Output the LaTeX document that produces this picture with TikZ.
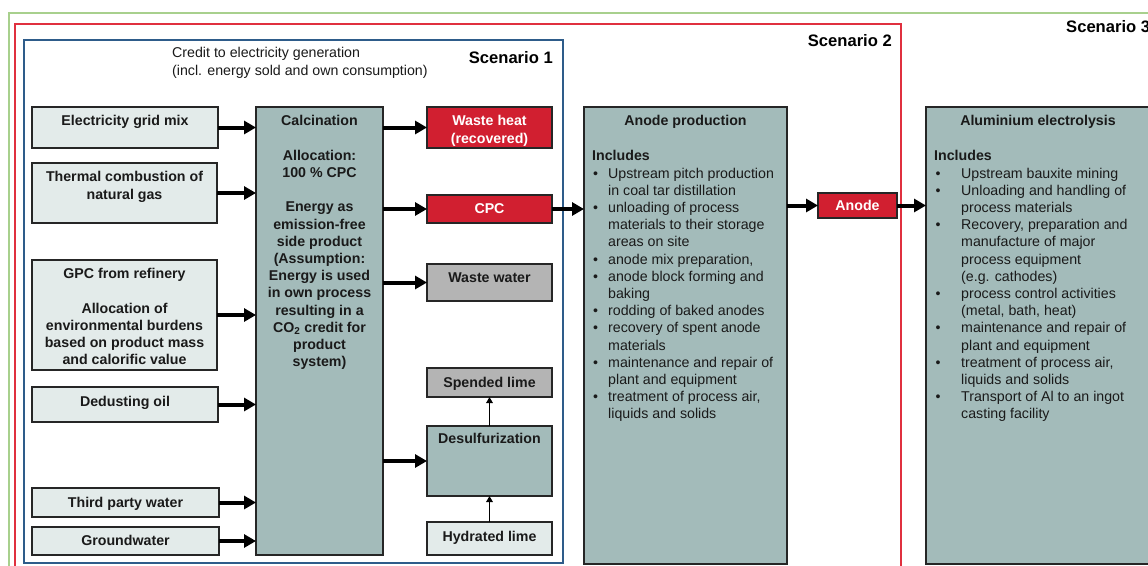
\documentclass[tikz,border=0pt]{standalone}
\usepackage{fontspec}
\setmainfont{Liberation Sans}
\usetikzlibrary{arrows.meta}
\definecolor{lightfill}{HTML}{E3EBEA}
\definecolor{mainfill}{HTML}{A3BBBA}
\definecolor{redfill}{HTML}{D11F30}
\definecolor{grayfill}{HTML}{B4B4B4}
\definecolor{greenline}{HTML}{A8D08D}
\definecolor{redline}{HTML}{E0303F}
\definecolor{blueline}{HTML}{2E5C8A}
\definecolor{boxline}{HTML}{262626}
\definecolor{txt}{HTML}{1A1A1A}
\newcommand{\mybul}{\makebox[16pt][l]{\hspace{1pt}•}}
\newcommand{\myind}{\makebox[16pt]{}}
\newcommand{\mybulB}{\makebox[27pt][l]{\hspace{1.5pt}•}}
\newcommand{\myindB}{\makebox[27pt]{}}
\begin{document}
\begin{tikzpicture}[x=1pt,y=-1pt,
  basebox/.style={draw=boxline, line width=1.3pt, inner sep=0pt, outer sep=0pt, anchor=north west},
  lbox/.style={basebox, fill=lightfill},
  mbox/.style={basebox, fill=mainfill},
  rbox/.style={basebox, fill=redfill},
  gbox/.style={basebox, fill=grayfill},
  btxt/.style={font=\fontsize{14.2}{17.2}\selectfont\bfseries, align=center, inner sep=0pt, anchor=north, yshift=12.04pt, execute at begin node=\strut, text=txt},
  wtxt/.style={btxt, text=white},
  ltxt/.style={font=\fontsize{14.2}{17.2}\selectfont, align=left, inner sep=0pt, anchor=north west, yshift=12.04pt, execute at begin node=\strut, text=txt},
  ml/.style={yshift=-2.5pt},
  flow/.style={line width=4pt, -{Triangle[length=12pt,width=13pt]}, black},
  thinflow/.style={line width=1.5pt, -{Triangle[length=6pt,width=6.5pt]}, black},
  scen/.style={font=\fontsize{16.6}{20}\selectfont\bfseries, inner sep=0pt, text=black}
]
\useasboundingbox (0,0) rectangle (1148,565);
\clip (0,0) rectangle (1148,565);
\fill[white] (0,0) rectangle (1148,565);

% scenario borders
\draw[greenline, line width=2.2pt] (9,13) rectangle (1170,600);
\draw[redline, line width=2.2pt] (15,24) rectangle (901,600);
\draw[blueline, line width=2.2pt] (24,40) rectangle (563,563);

\node[scen, anchor=base east] (s1) at (553,63) {Scenario 1};
\node[scen, anchor=base east] (s2) at (892,46) {Scenario 2};
\node[scen, anchor=base west] (s3) at (1066,32) {Scenario 3};

\node[ltxt, ml] (credit) at (172,57) {Credit to electricity generation\\(incl. energy sold and own consumption)};

% input boxes
\node[lbox, minimum width=186pt, minimum height=41pt] (elec) at (32,107) {};
\node[btxt] at (elec.north |- 0,125) {Electricity grid mix};
\node[lbox, minimum width=185pt, minimum height=60pt] (therm) at (32,163) {};
\node[btxt, ml] at (therm.north |- 0,181) {Thermal combustion of\\natural gas};
\node[lbox, minimum width=185pt, minimum height=110pt] (gpc) at (32,260) {};
\node[btxt, ml] at (gpc.north |- 0,278) {GPC from refinery\\[17.2pt]Allocation of\\environmental burdens\\based on product mass\\and calorific value};
\node[lbox, minimum width=186pt, minimum height=35pt] (dedust) at (32,387) {};
\node[btxt] at (dedust.north |- 0,406) {Dedusting oil};
\node[lbox, minimum width=187pt, minimum height=29pt] (third) at (32,488) {};
\node[btxt] at (third.north |- 0,507) {Third party water};
\node[lbox, minimum width=187pt, minimum height=28pt] (ground) at (32,527) {};
\node[btxt] at (ground.north |- 0,545) {Groundwater};

% calcination
\node[mbox, minimum width=127pt, minimum height=448pt] (calc) at (256,107) {};
\node[btxt, ml] at (calc.north |- 0,125) {Calcination\\[17.2pt]Allocation:\\100 \% CPC\\[17.2pt]Energy as\\emission-free\\side product\\(Assumption:\\Energy is used\\in own process\\resulting in a\\CO\textsubscript{2} credit for\\product\\system)};

% outputs
\node[rbox, minimum width=125pt, minimum height=41pt] (heat) at (427,107) {};
\node[wtxt, ml] at (heat.north |- 0,125) {Waste heat\\(recovered)};
\node[rbox, minimum width=125pt, minimum height=28pt] (cpc) at (427,195) {};
\node[wtxt] at (cpc.north |- 0,213) {CPC};
\node[gbox, minimum width=125pt, minimum height=37pt] (wwater) at (427,264) {};
\node[btxt] at (wwater.north |- 0,282) {Waste water};
\node[gbox, minimum width=125pt, minimum height=29pt] (spend) at (427,368) {};
\node[btxt] at (spend.north |- 0,387) {Spended lime};
\node[mbox, minimum width=125pt, minimum height=70pt] (desulf) at (427,426) {};
\node[btxt] at (desulf.north |- 0,443) {Desulfurization};
\node[lbox, minimum width=125pt, minimum height=33pt] (hydr) at (427,522) {};
\node[btxt] at (hydr.north |- 0,541) {Hydrated lime};

% anode production
\node[mbox, minimum width=203pt, minimum height=457pt] (aprod) at (584,107) {};
\node[btxt] at (aprod.north |- 0,125) {Anode production};
\node[ltxt, ml] at (592,160) {\textbf{Includes}\\
\mybul Upstream pitch production\\
\myind in coal tar distillation\\
\mybul unloading of process\\
\myind materials to their storage\\
\myind areas on site\\
\mybul anode mix preparation,\\
\mybul anode block forming and\\
\myind baking\\
\mybul rodding of baked anodes\\
\mybul recovery of spent anode\\
\myind materials\\
\mybul maintenance and repair of\\
\myind plant and equipment\\
\mybul treatment of process air,\\
\myind liquids and solids};

% anode
\node[rbox, minimum width=79pt, minimum height=25pt] (anode) at (818,193) {};
\node[wtxt] at (anode.north |- 0,210) {Anode};

% aluminium electrolysis
\node[mbox, minimum width=224pt, minimum height=457pt] (alu) at (926,107) {};
\node[btxt] at (alu.north |- 0,125) {Aluminium electrolysis};
\node[ltxt, ml] at (934,160) {\textbf{Includes}\\
\mybulB Upstream bauxite mining\\
\mybulB Unloading and handling of\\
\myindB process materials\\
\mybulB Recovery, preparation and\\
\myindB manufacture of major\\
\myindB process equipment\\
\myindB (e.g. cathodes)\\
\mybulB process control activities\\
\myindB (metal, bath, heat)\\
\mybulB maintenance and repair of\\
\myindB plant and equipment\\
\mybulB treatment of process air,\\
\myindB liquids and solids\\
\mybulB Transport of Al to an ingot\\
\myindB casting facility};

% flows into calcination
\draw[flow] (elec.east) -- (elec.east -| calc.west);
\draw[flow] (therm.east) -- (therm.east -| calc.west);
\draw[flow] (gpc.east) -- (gpc.east -| calc.west);
\draw[flow] (dedust.east) -- (dedust.east -| calc.west);
\draw[flow] (third.east) -- (third.east -| calc.west);
\draw[flow] (ground.east) -- (ground.east -| calc.west);

% flows out of calcination
\draw[flow] (heat.west -| calc.east) -- (heat.west);
\draw[flow] (cpc.west -| calc.east) -- (cpc.west);
\draw[flow] (wwater.west -| calc.east) -- (wwater.west);
\draw[flow] (desulf.west -| calc.east) -- (desulf.west);

\draw[thinflow] (desulf.north) -- (spend.south);
\draw[thinflow] (hydr.north) -- (desulf.south);

\draw[flow] (cpc.east) -- (cpc.east -| aprod.west);
\draw[flow] (anode.west -| aprod.east) -- (anode.west);
\draw[flow] (anode.east) -- (anode.east -| alu.west);
\end{tikzpicture}
\end{document}
